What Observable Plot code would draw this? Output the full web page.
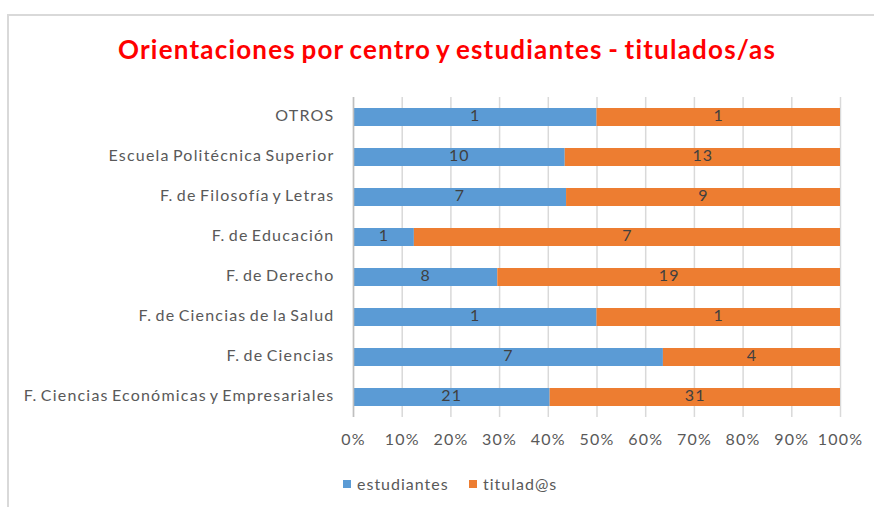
<!DOCTYPE html>
<html>
<head>
<meta charset="utf-8">
<script src="https://cdn.jsdelivr.net/npm/d3@7"></script>
<script src="https://cdn.jsdelivr.net/npm/@observablehq/plot@0.6"></script>
<style>
  html, body { margin: 0; padding: 0; background: #fff; }
  #wrap { position: relative; width: 874px; height: 507px; overflow: hidden; font-family: Lato, "Open Sans", sans-serif; }
  #frame { position: absolute; left: 7px; top: 14px; width: 1000px; height: 1000px; border-left: 2px solid #d9d9d9; border-top: 2px solid #d9d9d9; box-sizing: border-box; }
  #title { position: absolute; left: 0; width: 894px; top: 33px; text-align: center; color: #ff0000; font-weight: bold; font-size: 26px; line-height: 32px; letter-spacing: 1.2px; word-spacing: -2px; }
  #chart { position: absolute; left: 0; top: 0; }
  #legend { position: absolute; top: 474px; left: 0; width: 874px; font-size: 16px; letter-spacing: 1px; color: #595959; line-height: 20px; }
  .item { position: absolute; top: 0; display: flex; align-items: center; }
  .sw { width: 8px; height: 8px; margin-right: 6px; }
</style>
</head>
<body>
<div id="wrap">
  <div id="frame"></div>
  <div id="chart"></div>
  <div id="title">Orientaciones por centro y estudiantes - titulados/as</div>
  <div id="legend"></div>
</div>
<script>
const centros = [
  "OTROS",
  "Escuela Politécnica Superior",
  "F. de Filosofía y Letras",
  "F. de Educación",
  "F. de Derecho",
  "F. de Ciencias de la Salud",
  "F. de Ciencias",
  "F. Ciencias Económicas y Empresariales"
];
const series = ["estudiantes", "titulad@s"];
const estudiantes = [1, 10, 7, 1, 8, 1, 7, 21];
const titulados = [1, 13, 9, 7, 19, 1, 4, 31];
const colors = ["#5b9bd5", "#ed7d31"];
const xTicks = [0, 0.1, 0.2, 0.3, 0.4, 0.5, 0.6, 0.7, 0.8, 0.9, 1];

const rows = [];
centros.forEach((c, i) => {
  rows.push({centro: c, serie: series[0], value: estudiantes[i]});
  rows.push({centro: c, serie: series[1], value: titulados[i]});
});

const chart = Plot.plot({
  width: 874,
  height: 507,
  marginLeft: 353,
  marginRight: 34,
  marginTop: 97,
  marginBottom: 90,
  style: {fontFamily: "Lato, 'Open Sans', sans-serif", fontSize: "16px", letterSpacing: "1.2px", wordSpacing: "-2px", color: "#595959", background: "transparent"},
  x: {domain: [0, 1], ticks: xTicks, tickFormat: d3.format(".0%"), label: null, tickSize: 0, tickPadding: 16},
  y: {domain: centros, label: null, paddingInner: 0.55, paddingOuter: 0.275, axis: null},
  color: {domain: series, range: colors},
  marks: [
    Plot.axisY({tickSize: 0, tickPadding: 19, dy: -1.5, label: null}),
    Plot.ruleX(xTicks, {stroke: "#d9d9d9", strokeWidth: 1.5}),
    Plot.barX(rows, Plot.stackX({x: "value", y: "centro", fill: "serie", z: "serie", offset: "normalize"})),
    Plot.text(rows, Plot.stackX({x: "value", y: "centro", z: "serie", text: "value", offset: "normalize", fill: "#404040", fontSize: 16, dy: -1.5})),
    Plot.ruleX([0], {stroke: "#bfbfbf", strokeWidth: 1.5})
  ]
});
document.getElementById("chart").appendChild(chart);

const legend = document.getElementById("legend");
const lx = [343, 469];
series.forEach((s, i) => {
  const it = document.createElement("div");
  it.className = "item";
  it.style.left = lx[i] + "px";
  const sw = document.createElement("div");
  sw.className = "sw";
  sw.style.background = colors[i];
  const t = document.createElement("span");
  t.textContent = s;
  it.appendChild(sw);
  it.appendChild(t);
  legend.appendChild(it);
});
</script>
</body>
</html>
